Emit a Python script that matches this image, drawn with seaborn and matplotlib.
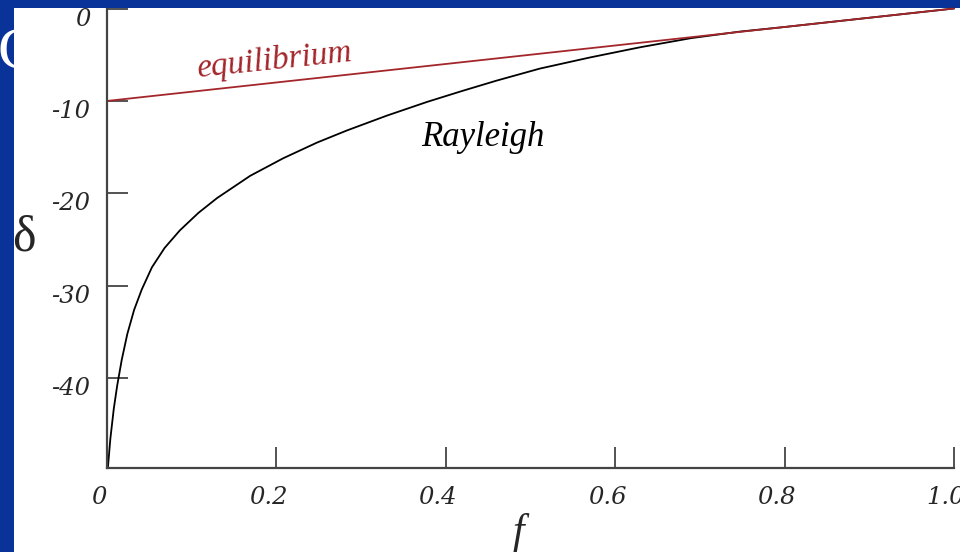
import numpy as np
import pandas as pd
import seaborn as sns
import matplotlib.pyplot as plt
import matplotlib.transforms as mtransforms
from matplotlib.patches import Rectangle

# --- values
f_rayleigh = [0.001, 0.004, 0.008, 0.012, 0.0174, 0.024, 0.032, 0.041, 0.053, 0.068,
              0.086, 0.108, 0.13, 0.169, 0.208, 0.248, 0.283, 0.33, 0.378, 0.42,
              0.46, 0.511, 0.57, 0.629, 0.69, 0.747, 0.8, 0.85, 0.9, 0.95, 1.0]
delta_rayleigh = [-49.7, -46.5, -43.3, -40.8, -38.0, -35.2, -32.6, -30.4, -28.0, -25.9,
                  -24.0, -22.1, -20.5, -18.1, -16.2, -14.5, -13.2, -11.6, -10.1, -8.9,
                  -7.8, -6.5, -5.3, -4.2, -3.2, -2.5, -2.0, -1.5, -1.0, -0.5, 0.0]
f_equil = [0.0, 1.0]
delta_equil = [-10.0, 0.0]

x_ticks = [0, 0.2, 0.4, 0.6, 0.8, 1.0]
x_ticklabels = ["0", "0.2", "0.4", "0.6", "0.8", "1.0"]
y_ticks = [0, -10, -20, -30, -40]
y_ticklabels = ["0", "-10", "-20", "-30", "-40"]

sns.set_style("ticks")
plt.rcParams['font.family'] = ['Liberation Serif', 'DejaVu Serif']

blue = "#0a3399"
red = "#a3262b"

fig = plt.figure(figsize=(9.6, 5.52), dpi=100, facecolor=blue)

# slide title fragment behind the pasted picture
fig.text(-2 / 960, 1 - 54 / 552, "C", color="white", fontsize=43,
         ha="left", va="center", zorder=0)
# white picture area
fig.patches.append(Rectangle((14 / 960, 0), 1, 1 - 8 / 552, transform=fig.transFigure,
                             facecolor="white", edgecolor="none", zorder=1))

ax = fig.add_axes([107 / 960, 84 / 552, 847 / 960, 459.5 / 552], zorder=2)
ax.patch.set_alpha(0)

ray = pd.DataFrame({"f": f_rayleigh, "delta": delta_rayleigh})
equ = pd.DataFrame({"f": f_equil, "delta": delta_equil})
sns.lineplot(data=ray, x="f", y="delta", color="black", lw=1.3, ax=ax, clip_on=False)
sns.lineplot(data=equ, x="f", y="delta", color=red, lw=1.3, ax=ax, clip_on=False)

ax.set_xlim(0, 1)
ax.set_ylim(-49.7, 0)
sns.despine(ax=ax)
for side in ["left", "bottom"]:
    ax.spines[side].set_color("#444444")
    ax.spines[side].set_linewidth(1.6)

ax.set_xticks(x_ticks)
ax.set_xticklabels(x_ticklabels)
ax.set_yticks(y_ticks)
ax.set_yticklabels(y_ticklabels)
ax.tick_params(direction="in", length=15, width=1.3, color="#444444",
               labelsize=17.5, pad=12)
ax.tick_params(axis="x", pad=13)
for lab in ax.get_xticklabels() + ax.get_yticklabels():
    lab.set_fontstyle("italic")
    lab.set_family("DejaVu Serif")

dx = mtransforms.ScaledTranslation(-8 / 100, 0, fig.dpi_scale_trans)
for lab in ax.get_xticklabels():
    lab.set_transform(lab.get_transform() + dx)
dy = mtransforms.ScaledTranslation(0, -8 / 100, fig.dpi_scale_trans)
for lab in ax.get_yticklabels():
    lab.set_transform(lab.get_transform() + dy)

ax.set_xlabel("")
ax.set_ylabel("")
fig.text(518 / 960, 1 - 532 / 552, "f", fontsize=30, fontstyle="italic",
         ha="center", va="center", zorder=3)
fig.text(24 / 960, 1 - 238 / 552, "δ", fontsize=36, ha="center", va="center", zorder=3)

ax.text(0.198, -5.6, "equilibrium", color=red, fontsize=24, fontstyle="italic",
        rotation=6, ha="center", va="center")
ax.text(0.444, -14.0, "Rayleigh", color="black", fontsize=25, fontstyle="italic",
        ha="center", va="center")

fig.savefig("out.png", dpi=100, facecolor=blue)
